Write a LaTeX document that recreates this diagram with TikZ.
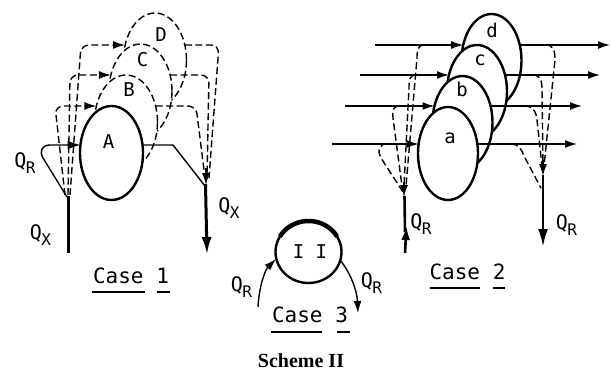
\documentclass[tikz,border=0pt]{standalone}
\usepackage{fontspec}
\setmonofont{DejaVu Sans Mono}
\newfontfamily\schemefont{Liberation Serif}
\usetikzlibrary{arrows.meta}
\newcommand\qsub[1]{Q\kern-0.5pt\raisebox{-6pt}{\fontsize{16}{16}\selectfont #1}}
\begin{document}
\begin{tikzpicture}[x=1pt,y=-1pt,
  solidell/.style={draw, fill=white, line width=2.4pt},
  dashell/.style={draw, fill=white, line width=1.4pt, dash pattern=on 7pt off 3.5pt},
  dsh/.style={line width=1.4pt, dash pattern=on 7pt off 3.5pt},
  thinln/.style={line width=1.4pt},
  tipA/.style={-{Latex[length=12pt,width=8pt]}},
  tipS/.style={-{Latex[length=12pt,width=8pt]}},
  tipB/.style={-{Latex[length=18pt,width=10pt]}},
  lbl/.style={font=\ttfamily\fontsize{19}{19}\selectfont, inner sep=0pt},
  qlbl/.style={font=\ttfamily\fontsize{20}{20}\selectfont, inner sep=0pt},
  caselbl/.style={font=\ttfamily\fontsize{21}{21}\selectfont, inner sep=0pt},
  uline/.style={line width=1.2pt},
]
\useasboundingbox (0,0) rectangle (611,372);

% ---------------- Case 1 ----------------
\path[dashell] (155,60) ellipse [x radius=31.5pt, y radius=47pt];
\path[dashell] (140.5,91) ellipse [x radius=31.5pt, y radius=47pt];
\path[dashell] (126,122) ellipse [x radius=31.5pt, y radius=47pt];
\path[solidell] (111.5,153) ellipse [x radius=31.5pt, y radius=47pt];

% left dashed legs
\draw[dsh, rounded corners=8pt, tipA] (65,195) -- (55,106) -- (96.4,106);
\draw[dsh, rounded corners=8pt, tipA] (68,195) -- (70,75) -- (110.9,75);
\draw[dsh, rounded corners=8pt, tipA] (70,195) -- (81,45) -- (125.1,45);
% right dashed legs
\draw[dsh, rounded corners=8pt] (155.6,106) -- (196,106) -- (205,178);
\draw[dsh, rounded corners=8pt] (170.1,75) -- (209,75) -- (207,178);
\draw[dsh, rounded corners=8pt] (184.9,45) -- (219,45) -- (209,178);
\draw[thinln, tipS] (206,168) -- (206,185);

% solid flows
\draw[thinln, -{Latex[length=13pt,width=9pt]}] (67,197) -- (43,158) .. controls (39,151) and (42,145) .. (50,145) -- (80.5,145);
\draw[line width=3pt] (68,196) -- (68,253);
\draw[thinln] (142.5,145) -- (173,145) -- (205,186);
\draw[line width=3pt, tipB] (205.5,184) -- (207,255);

\node[lbl] (lA) at (108.5,141.5) {A};
\node[lbl] (lB) at (129,90) {B};
\node[lbl] (lC) at (142.5,60) {C};
\node[lbl] (lD) at (161,35) {D};
\node[qlbl] (qr1) at (25,163.5) {\qsub{R}};
\node[qlbl] (qx1) at (40.5,235.5) {\qsub{X}};
\node[qlbl] (qx2) at (229,208.5) {\qsub{X}};
\node[caselbl] (c1) at (131,275.5) {Case 1};
\draw[uline] (92,292) -- (145,292);
\draw[uline] (157,292) -- (170,292);

% ---------------- Case 2 ----------------
\path[solidell] (491.5,60.5) ellipse [x radius=30pt, y radius=46.5pt];
\path[solidell] (477,91.5) ellipse [x radius=30pt, y radius=46.5pt];
\path[solidell] (462.5,122.5) ellipse [x radius=30pt, y radius=46.5pt];
\path[solidell] (448,153.5) ellipse [x radius=30pt, y radius=46.5pt];

\draw[thinln, tipA] (332,144) -- (418.6,144);
\draw[thinln, tipA] (477.4,144) -- (577,144);
\draw[thinln, tipA] (345,106) -- (434.5,106);
\draw[thinln, tipA] (490.5,106) -- (582,106);
\draw[thinln, tipA] (360,75) -- (449,75);
\draw[thinln, tipA] (505,75) -- (600,75);
\draw[thinln, tipA] (375,45) -- (463.2,45);
\draw[thinln, tipA] (519.8,45) -- (610,45);

% left dashed branches
\draw[dsh] (387,144) .. controls (379,144) and (377,150) .. (381,158) -- (403,192);
\draw[dsh] (399,106) .. controls (393,106) and (392,111) .. (393,118) -- (402,186);
\draw[dsh] (415,75) .. controls (410,75) and (409,80) .. (409,88) -- (404,186);
\draw[dsh] (424,45) .. controls (418,45) and (417,50) .. (417,58) -- (406,186);
\draw[thinln, tipS] (404,182) -- (404,197);
\draw[line width=2.6pt] (404.5,196) -- (405,232);
\draw[line width=2.6pt, -{Latex[length=14pt,width=9pt]}] (405,253) -- (406.5,226);

% right dashed branches
\draw[dsh] (511,144) .. controls (518,144) and (521,148) .. (524,156) -- (541,188);
\draw[dsh] (524,106) .. controls (532,106) and (536,110) .. (537,120) -- (542,166);
\draw[dsh] (533,75) .. controls (540,75) and (542,80) .. (542,90) -- (543,166);
\draw[dsh] (546,45) .. controls (553,45) and (555,50) .. (555,60) -- (544,166);
\draw[thinln, tipS] (543,160) -- (543,176);
\draw[line width=2.6pt, tipB] (543,175) -- (543,247);

\node[lbl] (la) at (450,138.5) {a};
\node[lbl] (lb) at (462,89.5) {b};
\node[lbl] (lc) at (480,60) {c};
\node[lbl] (ld) at (492,30.5) {d};
\node[qlbl] (qr2) at (421,224.5) {\qsub{R}};
\node[qlbl] (qr3) at (566.5,225) {\qsub{R}};
\node[caselbl] (c2) at (467.5,271.5) {Case 2};
\draw[uline] (430,288) -- (480,288);
\draw[uline] (493,288) -- (505,288);

% ---------------- Case 3 ----------------
\draw[line width=2.4pt] (308.5,252) ellipse [x radius=33pt, y radius=31pt];
\draw[line width=4.5pt] (308.5,252) ++(150:33pt and 31pt) arc[start angle=150, end angle=30, x radius=33pt, y radius=31pt];
\node[lbl] (II) at (310,252) {I I};
\draw[thinln, tipA] (258,307) .. controls (259,287) and (265,270) .. (276,259);
\draw[thinln, tipA] (340,260) .. controls (350,272) and (357,290) .. (358,313);
\node[qlbl] (qr4) at (241.5,287) {\qsub{R}};
\node[qlbl] (qr5) at (371.5,283.5) {\qsub{R}};
\node[caselbl] (c3) at (310,314.5) {Case 3};
\draw[uline] (271,332) -- (322,332);
\draw[uline] (337,332) -- (350,332);

\node[font=\schemefont\bfseries\fontsize{20}{20}\selectfont, inner sep=0pt] (sch) at (301,361) {Scheme II};
\end{tikzpicture}
\end{document}
